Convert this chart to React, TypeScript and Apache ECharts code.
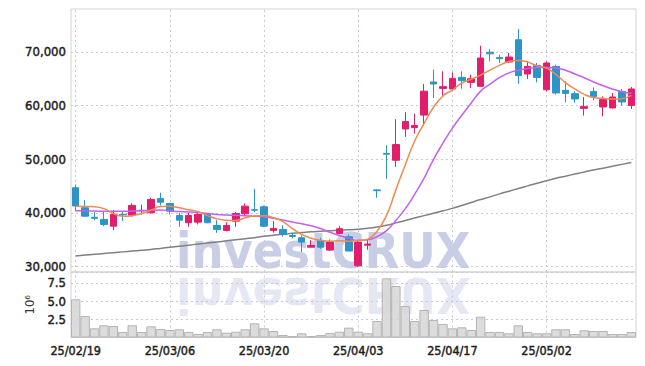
import React, { useEffect, useRef } from 'react';
import * as echarts from 'echarts';

const dates = ['25/02/19','25/02/20','25/02/21','25/02/24','25/02/25','25/02/26','25/02/27','25/02/28','25/03/04','25/03/05','25/03/06','25/03/07','25/03/10','25/03/11','25/03/12','25/03/13','25/03/14','25/03/17','25/03/18','25/03/19','25/03/20','25/03/21','25/03/24','25/03/25','25/03/26','25/03/27','25/03/28','25/03/31','25/04/01','25/04/02','25/04/03','25/04/04','25/04/07','25/04/08','25/04/09','25/04/10','25/04/11','25/04/14','25/04/15','25/04/16','25/04/17','25/04/18','25/04/21','25/04/22','25/04/23','25/04/24','25/04/25','25/04/28','25/04/29','25/04/30','25/05/02','25/05/07','25/05/08','25/05/09','25/05/12','25/05/13','25/05/14','25/05/15','25/05/16','25/05/19'];

const openPrices = [44700, 40970, 39200, 38800, 37540, 39750, 39590, 40400, 40040, 42700, 41770, 39530, 38180, 38290, 39720, 37670, 36750, 38470, 39850, 40600, 41150, 36750, 36930, 35800, 35390, 33630, 34880, 33080, 36190, 35570, 30160, 34000, 44300, 51100, 49820, 55660, 55910, 58230, 64400, 63210, 63090, 65260, 64330, 63590, 69950, 68950, 68120, 72270, 65890, 67500, 62970, 67310, 62840, 62230, 59490, 62650, 59750, 59570, 62650, 60000];
const closePrices = [41300, 39400, 39000, 37860, 39720, 39650, 41400, 40500, 42510, 42000, 40330, 38660, 39530, 39720, 38180, 36930, 37670, 39900, 41270, 40520, 37540, 37120, 36000, 35620, 34570, 33940, 33630, 34570, 37060, 32900, 34570, 34200, 44150, 50950, 52740, 57020, 56280, 62690, 64030, 63530, 65070, 64650, 65020, 68870, 69650, 68750, 69050, 65580, 67310, 65260, 67940, 62360, 62280, 61240, 59810, 61720, 61110, 61610, 60680, 63100];
const lowPrices = [40400, 39300, 38650, 37540, 36800, 38470, 39300, 39720, 39900, 41400, 39720, 37430, 37430, 37860, 38100, 36310, 36560, 37430, 39400, 40150, 37360, 36310, 35570, 35260, 32710, 33630, 33320, 32900, 36000, 32900, 29970, 33140, 42830, 46360, 48590, 54170, 54780, 56280, 61420, 61860, 62840, 63160, 63290, 63500, 68230, 67940, 67940, 64090, 64960, 64330, 62650, 62040, 60610, 60520, 58140, 60980, 58000, 59440, 60000, 59380];
const highPrices = [45300, 42380, 40150, 40330, 40520, 40330, 41770, 41580, 42830, 43760, 41900, 40040, 40040, 40150, 39900, 38660, 38290, 40150, 41770, 44500, 41400, 38470, 37670, 36310, 35810, 34940, 35390, 35060, 37540, 36000, 34880, 35060, 44400, 52610, 57470, 58750, 58500, 64040, 66690, 66380, 66190, 66380, 65760, 71160, 70540, 69480, 69800, 74260, 68230, 67940, 68230, 67620, 64520, 62650, 61610, 63400, 61720, 62360, 63100, 63470];

const ma5 = [41260, 41200, 41150, 40800, 39900, 39400, 39500, 39900, 40500, 41200, 41260, 40950, 40600, 40250, 39500, 38900, 38650, 38600, 39100, 39450, 39500, 39100, 38400, 37100, 36000, 35300, 34900, 34750, 34800, 34750, 34850, 35100, 36600, 39500, 44300, 49000, 53400, 56700, 59700, 61800, 62900, 64200, 64900, 65700, 66600, 67500, 68200, 68400, 68100, 67400, 67000, 65800, 64300, 63100, 62100, 61500, 61350, 61250, 61300, 61900];
const ma10 = [40400, 40400, 40350, 40300, 40300, 40300, 40350, 40400, 40500, 40550, 40400, 40250, 40200, 40100, 39900, 39700, 39600, 39550, 39500, 39400, 39300, 39000, 38700, 38300, 38000, 37600, 37100, 36400, 35800, 35300, 34900, 35000, 35600, 36700, 38600, 40800, 43500, 46500, 50000, 53000, 55800, 58200, 60500, 62700, 64000, 65200, 66100, 66600, 66900, 67100, 67100, 67000, 66600, 65900, 65200, 64400, 63700, 63100, 62600, 62300];
const ma60 = [32000, 32150, 32300, 32450, 32600, 32750, 32900, 33050, 33200, 33400, 33600, 33800, 34000, 34200, 34400, 34600, 34800, 35000, 35200, 35400, 35650, 35850, 36050, 36200, 36350, 36500, 36600, 36700, 36800, 36850, 36950, 37150, 37400, 37700, 38150, 38600, 39050, 39500, 39950, 40400, 40850, 41400, 41950, 42500, 43000, 43550, 44050, 44550, 45050, 45550, 46000, 46450, 46850, 47250, 47650, 48000, 48350, 48700, 49050, 49400];

const volumeMillions = [5.25, 2.95, 1.26, 1.68, 1.58, 0.76, 1.68, 0.76, 1.54, 1.17, 1.03, 1.13, 0.76, 0.48, 0.76, 1.13, 0.66, 0.8, 1.13, 1.95, 1.26, 0.89, 0.34, 0.2, 0.58, 0.2, 0.35, 0.6, 0.8, 1.35, 0.8, 0.58, 2.27, 8.13, 7.07, 4.33, 2.27, 3.78, 2.4, 1.85, 1.26, 1.4, 1.03, 2.86, 0.76, 0.76, 0.58, 1.68, 0.76, 0.58, 0.58, 1.13, 1.13, 0.48, 0.99, 0.89, 0.89, 0.48, 0.48, 0.76];

const priceTicks = [30000, 40000, 50000, 60000, 70000];
const dateGridLabels = ['25/02/19', '25/03/06', '25/03/20', '25/04/03', '25/04/17', '25/05/02'];

const FONT = '"DejaVu Sans Condensed", "DejaVu Sans", sans-serif';

export default function App() {
  const ref = useRef<HTMLDivElement>(null);
  useEffect(() => {
    const chart = echarts.init(ref.current as HTMLDivElement, null, { renderer: 'svg' });
    const candleData = dates.map((_, i) => [openPrices[i], closePrices[i], lowPrices[i], highPrices[i]]);
    const dotted = { color: '#c8c8dc', type: [2, 3], width: 1 };
    const gridMark = (axisVals: any[], isX: boolean) => ({
      silent: true,
      symbol: 'none',
      label: { show: false },
      lineStyle: dotted,
      data: axisVals.map((v) => (isX ? { xAxis: v } : { yAxis: v })),
    });
    const wmFont = 'bold 50px "DejaVu Sans Condensed", "DejaVu Sans", sans-serif';
    const labelStyle = {
      color: '#1e1e1e', fontSize: 13, fontFamily: FONT,
      textBorderColor: '#1e1e1e', textBorderWidth: 0.45,
    };
    chart.setOption({
      animation: false,
      backgroundColor: '#ffffff',
      textStyle: { fontFamily: FONT },
      graphic: [
        {
          type: 'text', x: 176, y: 251, z: 0,
          style: { text: 'investCRUX', font: wmFont, fill: 'rgba(140,152,200,0.48)', verticalAlign: 'middle' },
        },
        {
          type: 'text', x: 176, y: 295, scaleY: -1, z: 0,
          style: { text: 'investCRUX', font: wmFont, fill: 'rgba(140,152,200,0.22)', verticalAlign: 'middle' },
        },
      ],
      grid: [
        { left: 71, right: 9, top: 9, height: 263, show: true, borderColor: '#d2d2d2', borderWidth: 1, backgroundColor: 'transparent' },
        { left: 71, right: 9, top: 272, height: 65.5, show: true, borderColor: '#d2d2d2', borderWidth: 1, backgroundColor: 'transparent' },
      ],
      xAxis: [
        {
          type: 'category', gridIndex: 0, data: dates, boundaryGap: true,
          axisLine: { show: false }, axisTick: { show: false }, axisLabel: { show: false }, splitLine: { show: false },
        },
        {
          type: 'category', gridIndex: 1, data: dates, boundaryGap: true,
          axisLine: { show: false }, axisTick: { show: false }, splitLine: { show: false },
          axisLabel: { show: true, interval: 9, margin: 6, ...labelStyle, fontSize: 12.5 },
        },
      ],
      yAxis: [
        {
          type: 'value', gridIndex: 0, min: 29000, max: 78000, scale: true,
          axisLine: { show: false }, axisTick: { show: false }, splitLine: { show: false },
          axisLabel: {
            margin: 5, ...labelStyle,
            showMinLabel: false, showMaxLabel: false,
            formatter: (v: number) => (priceTicks.indexOf(v) >= 0 ? v.toLocaleString('en-US') : ''),
          },
        },
        {
          type: 'value', gridIndex: 1, min: 0, max: 9, interval: 2.5,
          axisLine: { show: false }, axisTick: { show: false },
          splitLine: { show: true, lineStyle: dotted },
          name: '10\u2076', nameLocation: 'middle', nameGap: 33, nameRotate: 90,
          nameTextStyle: { color: '#333', fontSize: 13, fontFamily: FONT },
          axisLabel: {
            margin: 5, ...labelStyle,
            formatter: (v: number) => (v > 0 && v < 9 ? v.toFixed(1) : ''),
          },
        },
      ],
      series: [
        {
          name: 'grid', type: 'line', xAxisIndex: 0, yAxisIndex: 0, z: 1,
          data: dates.map(() => null), symbol: 'none',
          markLine: { ...gridMark(priceTicks, false), z: 1 },
        },
        {
          name: 'gridx', type: 'line', xAxisIndex: 0, yAxisIndex: 0, z: 1,
          data: dates.map(() => null), symbol: 'none',
          markLine: { ...gridMark(dateGridLabels, true), z: 1 },
        },
        {
          name: 'gridx2', type: 'line', xAxisIndex: 1, yAxisIndex: 1, z: 1,
          data: dates.map(() => null), symbol: 'none',
          markLine: { ...gridMark(dateGridLabels, true), z: 1 },
        },
        {
          name: 'MA60', type: 'line', xAxisIndex: 0, yAxisIndex: 0, data: ma60, smooth: true,
          symbol: 'none', lineStyle: { color: '#808080', width: 1.5 }, z: 3,
        },
        {
          name: 'price', type: 'candlestick', xAxisIndex: 0, yAxisIndex: 0, data: candleData,
          barWidth: 7, z: 4,
          itemStyle: { color: '#e21d6b', color0: '#2d94c6', borderColor: '#e21d6b', borderColor0: '#2d94c6', borderWidth: 1 },
        },
        {
          name: 'MA10', type: 'line', xAxisIndex: 0, yAxisIndex: 0, data: ma10, smooth: true,
          symbol: 'none', lineStyle: { color: '#c45ff0', width: 1.5 }, z: 5,
        },
        {
          name: 'MA5', type: 'line', xAxisIndex: 0, yAxisIndex: 0, data: ma5, smooth: true,
          symbol: 'none', lineStyle: { color: '#ee8a52', width: 1.5 }, z: 6,
        },
        {
          name: 'volume', type: 'bar', xAxisIndex: 1, yAxisIndex: 1, data: volumeMillions,
          barWidth: '100%', z: 3,
          itemStyle: { color: 'rgba(214,214,214,0.85)', borderColor: '#b4b4b4', borderWidth: 1 },
        },
      ],
    });
    return () => chart.dispose();
  }, []);
  return <div ref={ref} style={{ position: 'fixed', left: 0, top: 0, width: 645, height: 366 }} />;
}
